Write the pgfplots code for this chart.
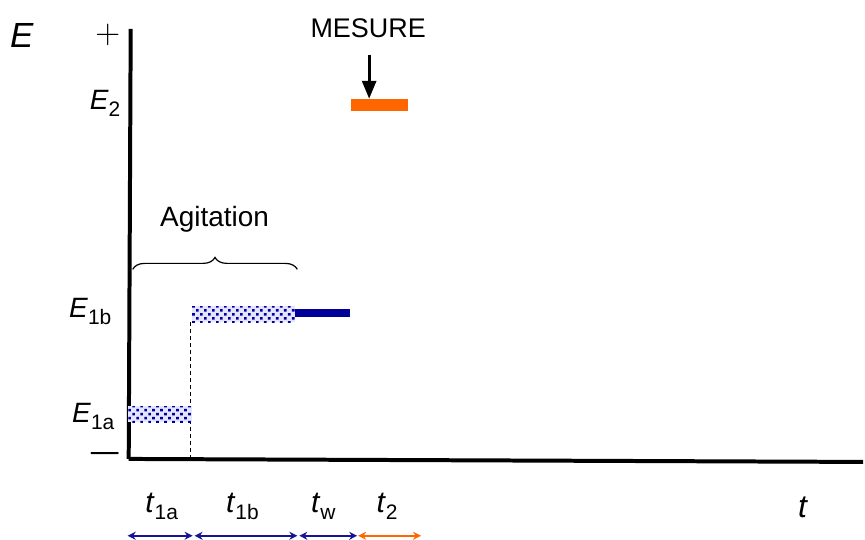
\documentclass[border=0pt]{standalone}
\usepackage{pgfplots}
\pgfplotsset{compat=1.18}
\usepackage{graphicx}
\usepackage{fontspec}
\setmainfont{Liberation Sans}
\usetikzlibrary{patterns,decorations.pathreplacing,arrows.meta}
\definecolor{myblue}{RGB}{0,0,153}
\definecolor{arrblue}{RGB}{20,20,150}
\definecolor{myorange}{RGB}{255,102,0}
\definecolor{dotblue}{RGB}{0,0,160}
\pgfdeclarepatternformonly{bigdots}{\pgfqpoint{-1pt}{-1pt}}{\pgfqpoint{5pt}{5pt}}{\pgfqpoint{4pt}{4pt}}{%
  \pgfpathrectangle{\pgfqpoint{0.3pt}{0.3pt}}{\pgfqpoint{1.3pt}{1.3pt}}%
  \pgfpathrectangle{\pgfqpoint{2.3pt}{2.3pt}}{\pgfqpoint{1.3pt}{1.3pt}}%
  \pgfusepath{fill}}
\newcommand{\fs}[1]{\fontsize{#1}{#1}\selectfont}
\newcommand{\lab}[3]{{\fs{#1}\textit{#2}\raisebox{-3.5pt}{\fs{10.5}#3}}}
\begin{document}
\begin{tikzpicture}
\begin{axis}[scale only axis, width=432.5pt, height=270pt,
  xmin=0, xmax=865, ymin=0, ymax=540, hide axis, clip=false]
% frame for bounding box
\addplot[draw=none] coordinates {(0,0) (865,540)};
% axes
\addplot[black, line width=2pt] coordinates {(129,80) (131,511)};
\addplot[black, line width=2pt] coordinates {(129,80) (865,77)};
% dashed line
\addplot[black, line width=0.7pt, dash pattern=on 2pt off 1.5pt] coordinates {(191,217) (191,80)};
% dotted bars
\addplot[draw=none, preaction={fill=blue!10}, pattern=bigdots, pattern color=dotblue]
  coordinates {(128,117) (192,117) (192,133) (128,133)} -- cycle;
\addplot[draw=none, preaction={fill=blue!10}, pattern=bigdots, pattern color=dotblue]
  coordinates {(192,217) (296,217) (296,233) (192,233)} -- cycle;
% solid blue bar
\addplot[draw=none, fill=myblue] coordinates {(296,222) (351,222) (351,230) (296,230)} -- cycle;
% orange bar
\addplot[draw=none, fill=myorange] coordinates {(352,429) (409,429) (409,441) (352,441)} -- cycle;
% measurement arrow
\draw[black, line width=1.5pt, -{Triangle[length=9pt,width=7pt]}] (370,485) -- (370,441);
% brace
\draw[black, line width=0.6pt, decorate, decoration={brace, amplitude=6pt}] (133,270) -- (298,270);
% bottom arrows
\draw[arrblue, line width=0.8pt, {Stealth[length=4pt,width=4pt]}-{Stealth[length=4pt,width=4pt]}] (128,3) -- (193,3);
\draw[arrblue, line width=0.8pt, {Stealth[length=4pt,width=4pt]}-{Stealth[length=4pt,width=4pt]}] (195,3) -- (298,3);
\draw[arrblue, line width=0.8pt, {Stealth[length=4pt,width=4pt]}-{Stealth[length=4pt,width=4pt]}] (300,3) -- (358,3);
\draw[myorange, line width=0.8pt, {Stealth[length=4pt,width=4pt]}-{Stealth[length=4pt,width=4pt]}] (359,3) -- (422,3);
% texts
\node[anchor=base, inner sep=0pt] at (22,492) {\fs{17.5}\textit{E}};
\node[inner sep=0pt] at (108,505) {\fs{17}$+$};
\node[inner sep=0pt] at (105,81) {\scalebox{1.9}[1]{\fs{15}\char"2212}};
\node[anchor=base east, inner sep=0pt] at (121,430) {\lab{14}{E}{2}};
\node[anchor=base east, inner sep=0pt] at (112,222) {\lab{14}{E}{1b}};
\node[anchor=base east, inner sep=0pt] at (115,117) {\lab{14}{E}{1a}};
\node[anchor=base, inner sep=0pt] at (369,502) {\fs{13.5}MESURE};
\node[anchor=base, inner sep=0pt] at (215,313) {\fs{14}Agitation};
\node[anchor=base, inner sep=0pt] at (162,26) {\lab{15}{t}{1a}};
\node[anchor=base, inner sep=0pt] at (243,26) {\lab{15}{t}{1b}};
\node[anchor=base, inner sep=0pt] at (324,26) {\lab{15}{t}{w}};
\node[anchor=base, inner sep=0pt] at (388,26) {\lab{15}{t}{2}};
\node[anchor=base, inner sep=0pt] at (805,21) {\fs{16}\textit{t}};
\end{axis}
\end{tikzpicture}
\end{document}
